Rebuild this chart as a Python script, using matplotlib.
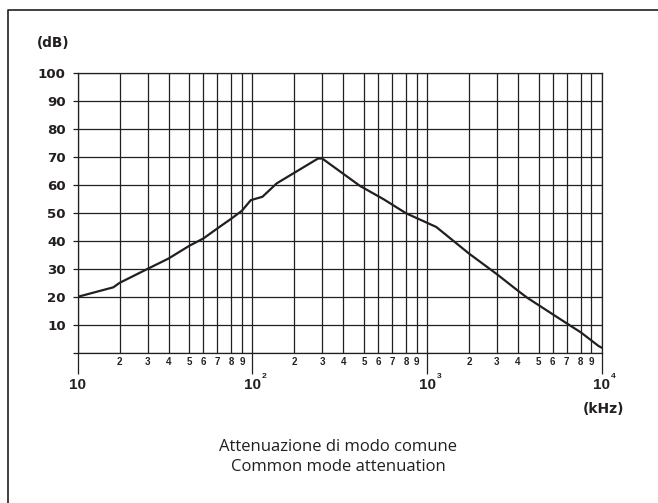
import numpy as np
import matplotlib
matplotlib.use("Agg")
import matplotlib.pyplot as plt
from matplotlib.lines import Line2D
from matplotlib.ticker import FixedLocator, FixedFormatter

# Common mode attenuation curve (frequency in kHz, attenuation in dB)
freq_khz = [10, 18.5, 20, 30, 40, 50, 60, 70, 80, 90, 98.5, 124, 158, 285, 300,
            480, 640, 800, 1220, 2000, 3000, 4000, 4440, 7000, 8000, 9700, 10000]
atten_db = [20.0, 23.4, 25.0, 30.0, 33.7, 38.3, 40.9, 44.5, 48.0, 50.8, 54.6, 55.8,
            60.6, 69.5, 69.5, 59.7, 54.9, 49.9, 45.0, 35.5, 28.1, 22.2, 19.7, 10.5,
            7.3, 2.4, 1.8]

y_ticks = [0, 10, 20, 30, 40, 50, 60, 70, 80, 90, 100]
y_labels = ["", "10", "20", "30", "40", "50", "60", "70", "80", "90", "100"]
decades = [10, 100, 1000, 10000]
decade_exponents = ["", "2", "3", "4"]
minor_digits = [2, 3, 4, 5, 6, 7, 8, 9]

title_it = "Attenuazione di modo comune"
title_en = "Common mode attenuation"

INK = "#231f20"

# Log-paper style scale: mantissa 1..10 mapped onto the printed grid spacing
MANT = [1, 2, 3, 4, 5, 6, 7, 8, 9, 10]
SPAN = [0.0, 0.24, 0.40, 0.52, 0.64, 0.72, 0.80, 0.88, 0.94, 1.0]


def forward(f):
    f = np.clip(np.asarray(f, dtype=float), 1e-12, None)
    lg = np.log10(f)
    d = np.floor(lg + 1e-9)
    m = f / 10.0 ** d
    return d + np.interp(m, MANT, SPAN)


def inverse(p):
    p = np.asarray(p, dtype=float)
    d = np.floor(p)
    return 10.0 ** d * np.interp(p - d, SPAN, MANT)


fig = plt.figure(figsize=(6.58, 5.03), dpi=100)
W, H = 658, 503
ax = fig.add_axes([77.7 / W, 1 - 352.7 / H, (601.7 - 77.7) / W, (352.7 - 73.3) / H])

ax.set_xscale("function", functions=(forward, inverse))
ax.set_xlim(10, 10000)
ax.set_ylim(0, 100)

ax.plot(freq_khz, atten_db, color=INK, lw=1.6, solid_joinstyle="round", zorder=3)

# ticks and grid
minor_vals = [k * d for d in decades[:-1] for k in minor_digits]
ax.xaxis.set_major_locator(FixedLocator(decades))
ax.xaxis.set_major_formatter(FixedFormatter([""] * len(decades)))
ax.xaxis.set_minor_locator(FixedLocator(minor_vals))
ax.xaxis.set_minor_formatter(FixedFormatter([str(k) for d in decades[:-1] for k in minor_digits]))
ax.set_yticks(y_ticks)
ax.set_yticklabels(y_labels)

ax.grid(True, which="both", color=INK, lw=0.9)
ax.tick_params(axis="x", which="major", direction="out", length=14.8, width=0.9, color=INK)
ax.tick_params(axis="x", which="minor", length=0, pad=3.4, labelsize=7, labelcolor=INK)
ax.tick_params(axis="y", direction="out", length=3.6, width=0.9, color=INK, pad=5.0,
               labelsize=9.6, labelcolor=INK)
for lab in ax.get_xticklabels(minor=True):
    lab.set_fontfamily("Liberation Sans")
    lab.set_fontweight("bold")
for lab in ax.get_yticklabels():
    lab.set_fontfamily("DejaVu Sans")
    lab.set_fontweight("bold")
for sp in ax.spines.values():
    sp.set_color(INK)
    sp.set_linewidth(0.9)

# decade labels with small exponents
for d, e in zip(decades, decade_exponents):
    ax.annotate("10", xy=(d, 0), xytext=(0, -23.6), textcoords="offset points",
                ha="center", va="center", fontsize=11, fontweight="bold",
                family="Liberation Sans", color=INK, annotation_clip=False)
    if e:
        ax.annotate(e, xy=(d, 0), xytext=(8.6, -16.8), textcoords="offset points",
                    ha="center", va="center", fontsize=6, fontweight="bold",
                    family="Liberation Sans", color=INK, annotation_clip=False)

ax.annotate("(kHz)", xy=(10000, 0), xytext=(1.0, -40.5), textcoords="offset points",
            ha="center", va="center", fontsize=10, fontweight="bold",
            family="DejaVu Sans", color=INK, annotation_clip=False)
fig.text(53 / W, 1 - 43.3 / H, "(dB)", ha="center", va="center", fontsize=9.8,
         fontweight="bold", family="DejaVu Sans", color=INK)

fig.text(338.5 / W, 1 - 451 / H, title_it, ha="center", va="baseline", fontsize=12,
         family="Open Sans", color=INK)
fig.text(338.5 / W, 1 - 470.7 / H, title_en, ha="center", va="baseline", fontsize=12,
         family="Open Sans", color=INK)

# outer frame (top and left edges)
fig.add_artist(Line2D([8 / W, 8 / W, 1.01], [-0.01, 1 - 10 / H, 1 - 10 / H],
                      transform=fig.transFigure, color=INK, lw=1.2))

fig.savefig("out.png", dpi=100)
